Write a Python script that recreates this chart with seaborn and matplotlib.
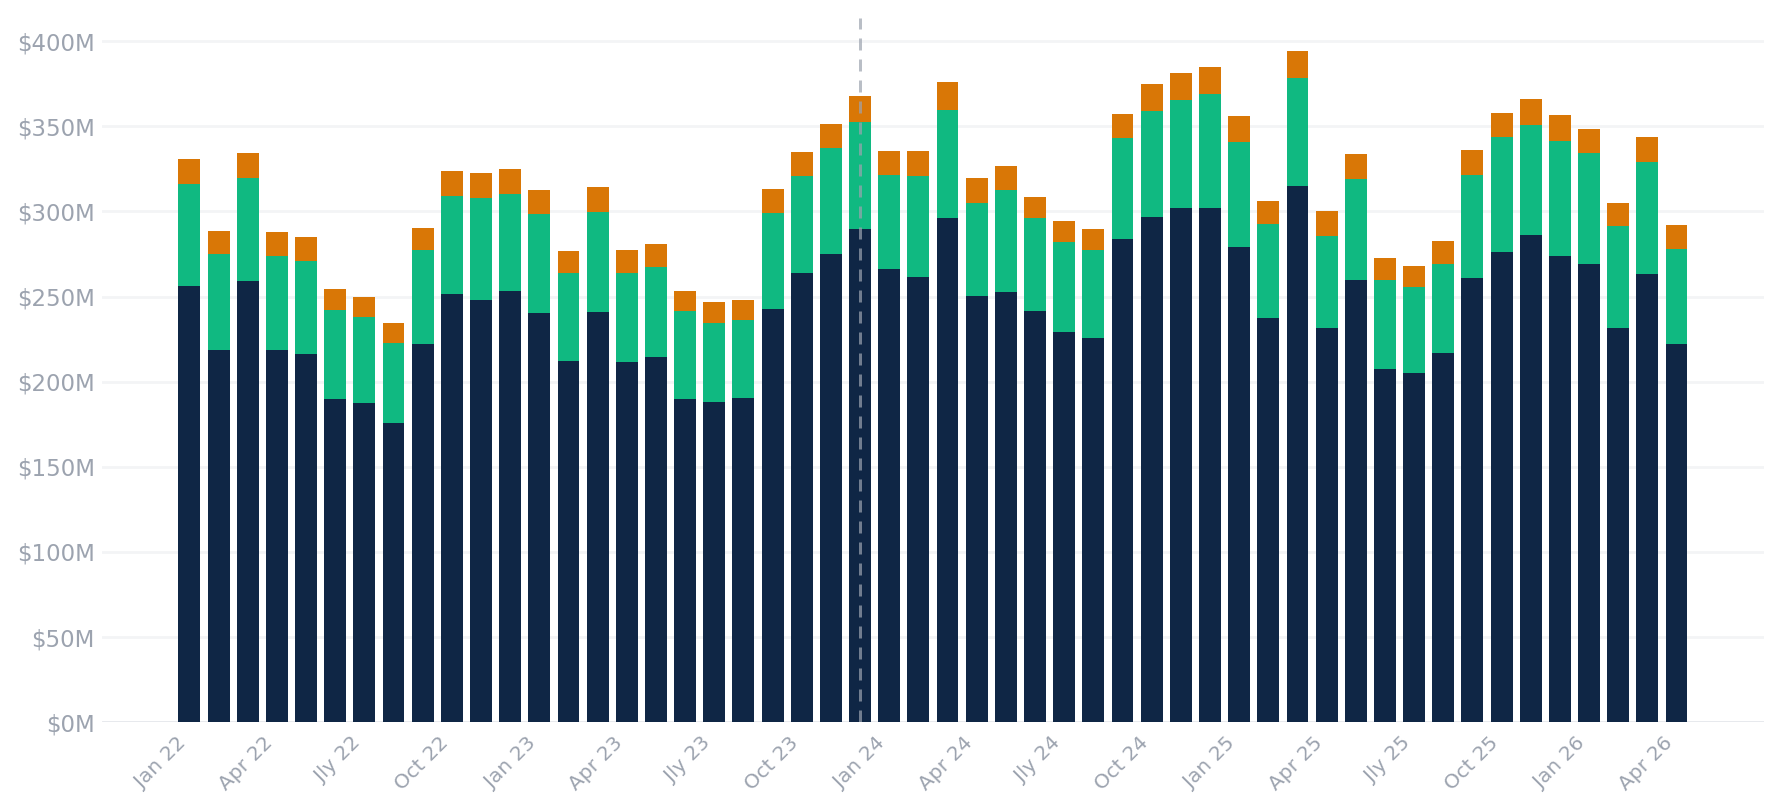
import pandas as pd
import seaborn as sns
import matplotlib.pyplot as plt
from matplotlib.ticker import FuncFormatter

# monthly values in $M, Jan 22 .. Apr 26
months = [f"{m} {y}" for y in ["22", "23", "24", "25", "26"]
          for m in ["Jan", "Feb", "Mar", "Apr", "May", "Jun", "Jly", "Aug", "Sep", "Oct", "Nov", "Dec"]][:52]

base = [256.2, 218.6, 259.2, 218.6, 216.3, 190.1, 187.7, 175.7, 222.2, 251.5, 248.0, 253.3,
        240.4, 212.2, 241.0, 211.6, 214.5, 189.9, 188.2, 190.4, 242.7, 263.8, 275.0, 289.7,
        266.2, 261.5, 296.1, 250.3, 252.7, 241.5, 229.2, 225.7, 283.8, 296.7, 302.0, 302.0,
        279.1, 237.4, 315.2, 231.6, 259.7, 207.5, 205.1, 216.9, 260.9, 276.2, 286.2, 273.8,
        269.1, 231.6, 263.3, 222.2]
mid = [60.1, 56.6, 60.6, 55.4, 54.6, 52.2, 50.3, 47.0, 55.3, 57.8, 60.1, 57.1,
       58.3, 51.6, 58.9, 52.2, 52.9, 51.6, 46.3, 46.0, 56.4, 57.2, 62.4, 63.0,
       55.2, 59.5, 63.7, 54.6, 60.1, 54.8, 53.1, 51.8, 59.5, 62.3, 63.6, 67.2,
       61.8, 55.4, 63.3, 54.2, 59.4, 52.3, 50.5, 52.4, 60.5, 67.5, 64.6, 67.6,
       65.2, 60.0, 65.9, 56.0]
top = [14.5, 13.3, 14.5, 13.9, 14.1, 12.2, 11.8, 11.8, 12.5, 14.4, 14.5, 14.5,
       13.9, 13.1, 14.4, 13.6, 13.5, 11.8, 12.3, 11.6, 14.1, 13.9, 13.9, 15.1,
       14.1, 14.5, 16.2, 14.7, 13.9, 12.2, 12.1, 12.2, 13.9, 15.8, 15.7, 15.6,
       15.1, 13.3, 15.7, 14.5, 14.6, 12.8, 12.3, 13.3, 14.7, 14.1, 15.2, 15.2,
       14.1, 13.4, 14.5, 13.8]

tick_labels = ["Jan 22", "Apr 22", "Jly 22", "Oct 22", "Jan 23", "Apr 23", "Jly 23", "Oct 23",
               "Jan 24", "Apr 24", "Jly 24", "Oct 24", "Jan 25", "Apr 25", "Jly 25", "Oct 25",
               "Jan 26", "Apr 26"]
marker_month = "Dec 23"

df = pd.DataFrame({"month": months, "base": base, "mid": mid, "top": top})
df["mid_top"] = df["base"] + df["mid"]
df["total"] = df["mid_top"] + df["top"]

sns.set_theme(style="white")
plt.rcParams["font.family"] = ["DejaVu Sans"]

fig = plt.figure(figsize=(17.82, 8.10), dpi=100)
ax = fig.add_axes([0.0572, 0.1083, 0.9327, 0.8695])

# stacked look: draw tallest first
kw = dict(saturation=1, width=0.75, linewidth=0, edgecolor="none", ax=ax, zorder=2)
sns.barplot(data=df, x="month", y="total", color="#D97706", **kw)
sns.barplot(data=df, x="month", y="mid_top", color="#10B981", **kw)
sns.barplot(data=df, x="month", y="base", color="#0F2645", **kw)

gray = "#9CA3AF"
for v in range(50, 401, 50):
    ax.axhline(v, color="#F3F4F6", lw=2, zorder=0)
ax.axhline(0, color="#E5E7EB", lw=2, zorder=1)

# dashed marker line
ax.axvline(months.index(marker_month), color=gray, lw=2.16, alpha=0.7, dashes=(4.0, 3.0), zorder=3)

ax.set_ylim(0, 413.6)
ax.set_xlim(-3, 54)
ax.set_yticks(range(0, 401, 50))
ax.yaxis.set_major_formatter(FuncFormatter(lambda v, p: f"${v:.0f}M"))
ax.set_xticks(range(0, 52, 3))
ax.set_xticklabels(tick_labels, rotation=45, ha="right")
ax.tick_params(axis="y", length=0, pad=5, labelsize=16.5, labelcolor=gray)
ax.tick_params(axis="x", length=0, pad=8, labelsize=14.5, labelcolor=gray)
ax.set_xlabel("")
ax.set_ylabel("")
for s in ax.spines.values():
    s.set_visible(False)

fig.savefig("out.png", dpi=100, facecolor="white")
